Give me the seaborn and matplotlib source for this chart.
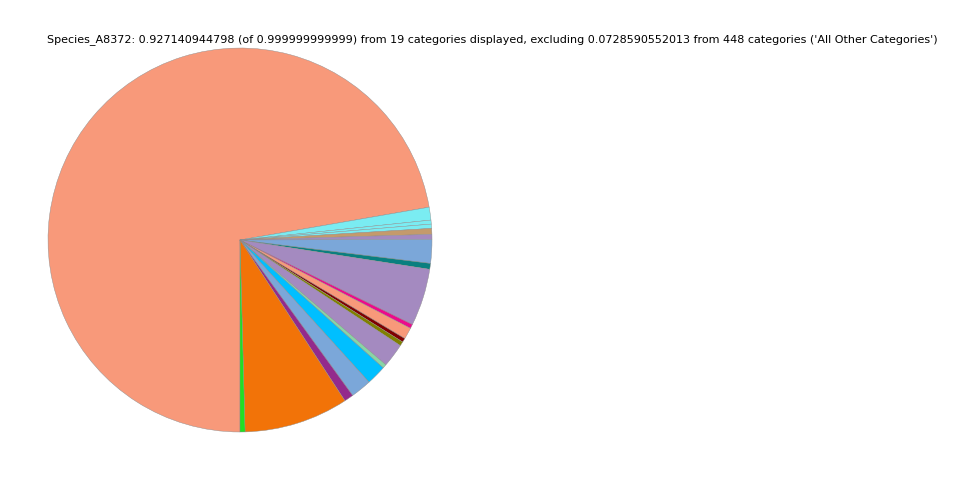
"""Pie chart of category shares for Species_A8372."""

import matplotlib

matplotlib.use("Agg")
import matplotlib.pyplot as plt
import seaborn as sns


TITLE = (
    "Species_A8372: 0.927140944798 (of 0.999999999999) from 19 categories displayed, "
    "excluding 0.0728590552013 from 448 categories ('All Other Categories')"
)

# shares, in drawing order (clockwise from the bottom)
shares = [
    0.6699, 0.0100, 0.0031, 0.0033, 0.0046, 0.0039, 0.0185, 0.0046, 0.0446, 0.0033,
    0.0090, 0.0031, 0.0033, 0.0185, 0.0031, 0.0155, 0.0162, 0.0072, 0.0814, 0.0039,
]
slice_colors = [
    "#f8997a", "#7aecf2", "#7aecf2", "#7aecf2", "#c49a6c", "#a48ac0", "#7ba7d9",
    "#0a7f7f", "#a48ac0", "#ec0a8c", "#f8997a", "#800000", "#808000", "#a48ac0",
    "#88d6a6", "#00bfff", "#7ba7d9", "#932a8c", "#f27308", "#22e022",
]


def main() -> None:
    sns.set_theme(style="white")
    palette = sns.color_palette(slice_colors)

    fig = plt.figure(figsize=(9.6, 4.8), dpi=100)
    ax = fig.add_axes([0.05, 0.1, 0.4, 0.8])
    ax.pie(
        shares,
        colors=palette,
        startangle=270,
        counterclock=False,
        wedgeprops={"edgecolor": "#8c8c8c", "linewidth": 0.3},
    )
    ax.set_xlim(-1, 1)
    ax.set_ylim(-1, 1)
    ax.set_aspect("equal")
    ax.axis("off")

    fig.text(0.5125, 0.917, TITLE, ha="center", va="center", fontsize=8,
             family="DejaVu Sans", color="black")

    fig.savefig("out.png", dpi=100)
    plt.close(fig)


if __name__ == "__main__":
    main()
